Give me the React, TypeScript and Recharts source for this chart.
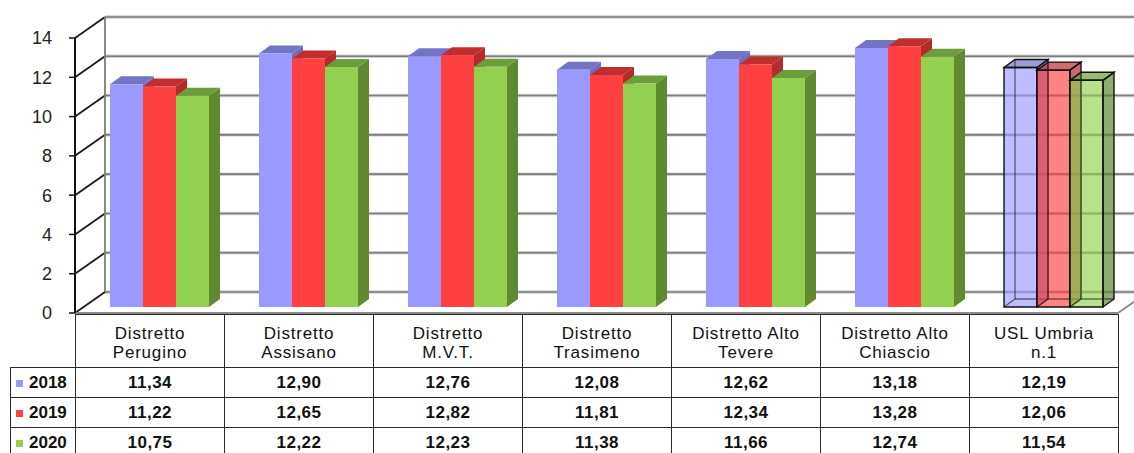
import React from 'react';
import { BarChart, Bar, XAxis, YAxis, CartesianGrid, ReferenceArea } from 'recharts';

const categories = [
  'Distretto Perugino',
  'Distretto Assisano',
  'Distretto M.V.T.',
  'Distretto Trasimeno',
  'Distretto Alto Tevere',
  'Distretto Alto Chiascio',
  'USL Umbria n.1',
];
const headerLines = [
  ['Distretto', 'Perugino'],
  ['Distretto', 'Assisano'],
  ['Distretto', 'M.V.T.'],
  ['Distretto', 'Trasimeno'],
  ['Distretto Alto', 'Tevere'],
  ['Distretto Alto', 'Chiascio'],
  ['USL Umbria', 'n.1'],
];
const years = ['2018', '2019', '2020'];
const values2018 = [11.34, 12.9, 12.76, 12.08, 12.62, 13.18, 12.19];
const values2019 = [11.22, 12.65, 12.82, 11.81, 12.34, 13.28, 12.06];
const values2020 = [10.75, 12.22, 12.23, 11.38, 11.66, 12.74, 11.54];
const yTicks = [0, 2, 4, 6, 8, 10, 12, 14];
const totalCategory = 'USL Umbria n.1';

const data = categories.map((name, i) => ({
  name,
  y2018: values2018[i],
  y2019: values2019[i],
  y2020: values2020[i],
}));

const seriesValues = [values2018, values2019, values2020];
const palette = [
  { front: '#9999FF', top: '#7474C6', side: '#6F6FC0', legend: '#9999FF' },
  { front: '#FF4040', top: '#C02E2E', side: '#B52A2A', legend: '#FF4040' },
  { front: '#92D050', top: '#6B9E3A', side: '#5F8A30', legend: '#92D050' },
];

const W = 1134;
const H = 453;
const WALL_DX = 30; // depth of the floor / walls
const WALL_DY = 21;
const BAR_DX = 10; // bars sit a bit inside the box
const BAR_DY = 6;
const BAR_D = 11; // bar depth
const BAR_DH = 8;

const fmt = (v: number) => v.toFixed(2).replace('.', ',');

const pts = (arr: number[][]) => arr.map((p) => p.join(',')).join(' ');

function make3DBar(c: { front: string; top: string; side: string }) {
  return (props: any) => {
    const { x, y, width, height, payload } = props;
    if (height == null || width == null) return <g />;
    const x0 = x + BAR_DX;
    const y0 = y - BAR_DY;
    const x1 = x0 + width;
    const y1 = y0 + height;
    const front = [[x0, y0], [x1, y0], [x1, y1], [x0, y1]];
    const side = [[x1, y0], [x1 + BAR_D, y0 - BAR_DH], [x1 + BAR_D, y1 - BAR_DH], [x1, y1]];
    const top = [[x0, y0], [x0 + BAR_D, y0 - BAR_DH], [x1 + BAR_D, y0 - BAR_DH], [x1, y0]];
    if (payload && payload.name === totalCategory) {
      return (
        <g>
          <polygon points={pts(front)} fill={c.front} fillOpacity={0.65} />
          <polygon points={pts(side)} fill={c.side} fillOpacity={0.7} />
          <polygon points={pts(top)} fill={c.top} fillOpacity={0.7} />
          <g stroke="#111" strokeWidth={1.4} fill="none">
            <line x1={x0 + BAR_D} y1={y0 - BAR_DH} x2={x0 + BAR_D} y2={y1 - BAR_DH} strokeOpacity={0.55} />
            <line x1={x0 + BAR_D} y1={y1 - BAR_DH} x2={x1 + BAR_D} y2={y1 - BAR_DH} strokeOpacity={0.55} />
            <line x1={x0} y1={y1} x2={x0 + BAR_D} y2={y1 - BAR_DH} strokeOpacity={0.55} />
            <polygon points={pts(front)} />
            <polygon points={pts(side)} />
            <polygon points={pts(top)} />
          </g>
        </g>
      );
    }
    return (
      <g>
        <polygon points={pts(side)} fill={c.side} />
        <polygon points={pts(top)} fill={c.top} />
        <polygon points={pts(front)} fill={c.front} />
      </g>
    );
  };
}

const gridLine = (p: any) => {
  const { x1, y1, x2, index } = p;
  const bx = x1 + WALL_DX;
  const by = y1 - WALL_DY;
  return (
    <g key={`grid-${index}-${y1}`}>
      <line x1={bx} y1={by} x2={x2 + WALL_DX} y2={by} stroke="#cfcfcf" strokeWidth={3.5} />
      <line x1={bx} y1={by} x2={x2 + WALL_DX} y2={by} stroke="#7d7d7d" strokeWidth={1.6} />
      <line x1={x1} y1={y1} x2={bx} y2={by} stroke="#1a1a1a" strokeWidth={1.8} />
    </g>
  );
};

const Walls = (p: any) => {
  const { x, y, width, height } = p;
  const bottom = y + height;
  return (
    <g>
      <line x1={x + WALL_DX} y1={y - WALL_DY} x2={x + WALL_DX} y2={bottom - WALL_DY} stroke="#7d7d7d" strokeWidth={1.8} />
      <line x1={x} y1={bottom} x2={x + width} y2={bottom} stroke="#8a8a8a" strokeWidth={1.8} />
      <line x1={x + width} y1={bottom} x2={x + width + WALL_DX} y2={bottom - WALL_DY} stroke="#8a8a8a" strokeWidth={1.8} />
    </g>
  );
};

const cellBorder = '1px solid #2a2a2a';
const font = '"Liberation Sans", Arial, sans-serif';

function DataTable() {
  return (
    <table
      style={{
        position: 'absolute',
        left: 10,
        top: 314,
        borderCollapse: 'collapse',
        tableLayout: 'fixed',
        width: 65 + 149 * categories.length,
        fontFamily: font,
        color: '#111',
      }}
    >
      <colgroup>
        <col style={{ width: 65 }} />
        {categories.map((c) => (
          <col key={c} style={{ width: 149 }} />
        ))}
      </colgroup>
      <tbody>
        <tr style={{ height: 53 }}>
          <td style={{ border: 'none' }} />
          {headerLines.map((lines, i) => (
            <td
              key={i}
              style={{
                border: cellBorder,
                textAlign: 'center',
                verticalAlign: 'middle',
                fontSize: 17,
                lineHeight: '19px',
                letterSpacing: 0.8,
                padding: '4px 0 0 0',
              }}
            >
              {lines[0]}
              <br />
              {lines[1]}
            </td>
          ))}
        </tr>
        {years.map((yr, r) => (
          <tr key={yr} style={{ height: 30 }}>
            <td
              style={{
                border: cellBorder,
                fontSize: 17,
                fontWeight: 'bold',
                padding: '0 0 0 5px',
                whiteSpace: 'nowrap',
              }}
            >
              <span
                style={{
                  display: 'inline-block',
                  width: 7,
                  height: 7,
                  background: palette[r].legend,
                  marginRight: 6,
                  verticalAlign: 'middle',
                }}
              />
              {yr}
            </td>
            {seriesValues[r].map((v, i) => (
              <td
                key={i}
                style={{
                  border: cellBorder,
                  textAlign: 'center',
                  fontSize: 17,
                  fontWeight: 'bold',
                  letterSpacing: 0.5,
                  padding: 0,
                }}
              >
                {fmt(v)}
              </td>
            ))}
          </tr>
        ))}
      </tbody>
    </table>
  );
}

export default function App() {
  return (
    <div style={{ position: 'absolute', left: 0, top: 0, width: W, height: H, background: '#fff', overflow: 'hidden' }}>
      <BarChart
        width={W}
        height={H}
        data={data}
        margin={{ top: 38, right: 16, bottom: 140, left: 35 }}
        barGap={0}
        barSize={33}
      >
        <CartesianGrid horizontal={gridLine} vertical={false} />
        <ReferenceArea y1={0} y2={14} shape={Walls} ifOverflow="visible" />
        <XAxis dataKey="name" hide />
        <YAxis
          type="number"
          domain={[0, 14]}
          ticks={yTicks}
          interval={0}
          width={40}
          tickSize={6}
          tickMargin={17}
          tickLine={{ stroke: '#111', strokeWidth: 1.5 }}
          axisLine={{ stroke: '#111', strokeWidth: 2 }}
          tick={{ fill: '#222', fontSize: 18, fontFamily: font }}
        />
        <Bar dataKey="y2018" name="2018" shape={make3DBar(palette[0])} isAnimationActive={false} />
        <Bar dataKey="y2019" name="2019" shape={make3DBar(palette[1])} isAnimationActive={false} />
        <Bar dataKey="y2020" name="2020" shape={make3DBar(palette[2])} isAnimationActive={false} />
      </BarChart>
      <DataTable />
    </div>
  );
}
